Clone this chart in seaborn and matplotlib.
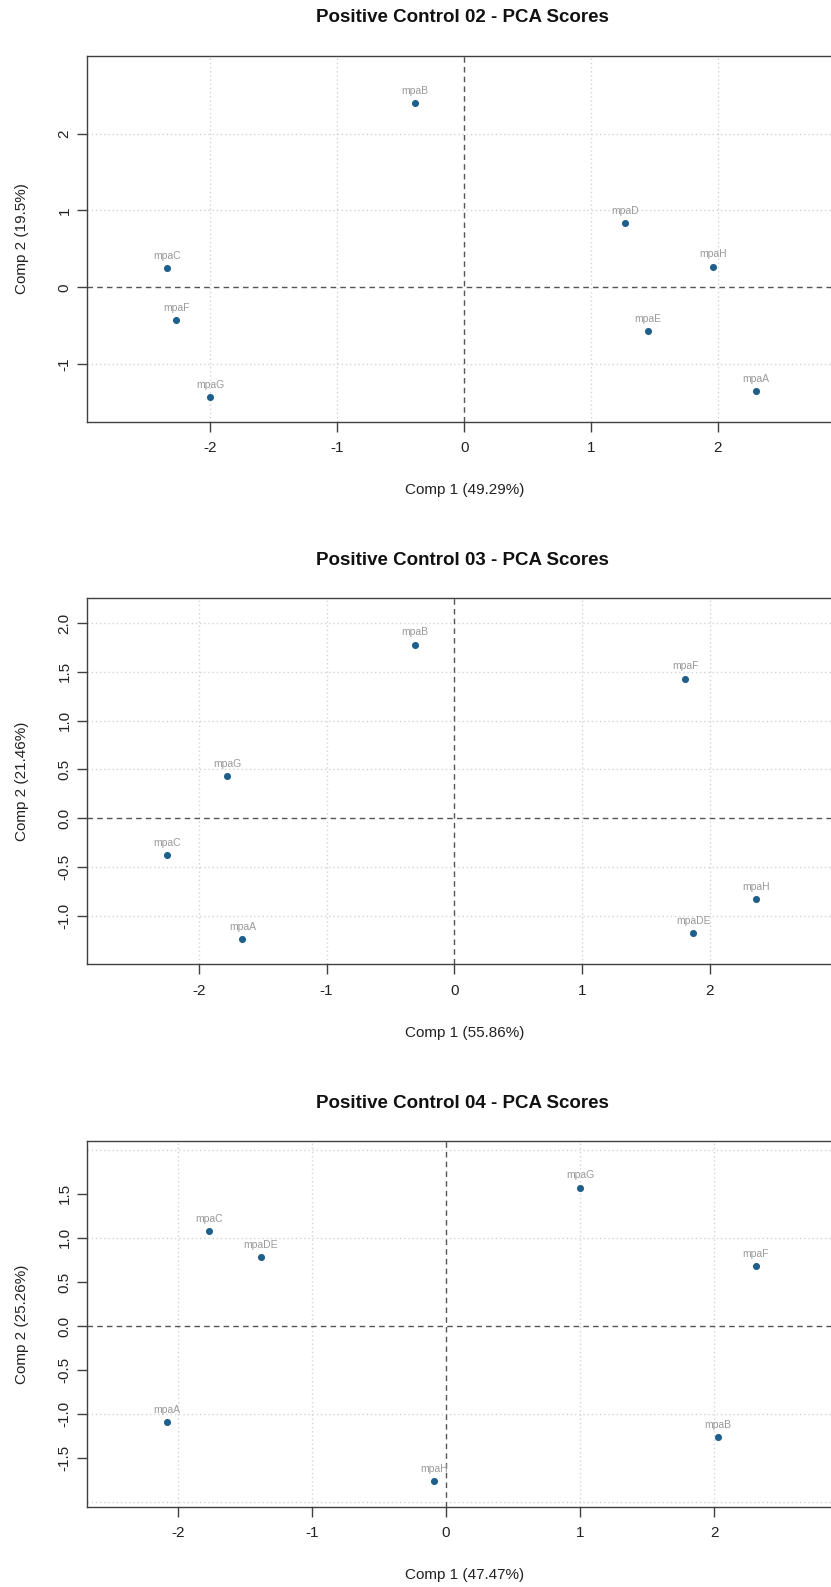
import seaborn as sns
import matplotlib.pyplot as plt

# PCA scores
pc02_labels = ['mpaB', 'mpaC', 'mpaF', 'mpaG', 'mpaD', 'mpaH', 'mpaE', 'mpaA']
pc02_x = [-0.39, -2.34, -2.27, -2.00, 1.27, 1.96, 1.45, 2.30]
pc02_y = [2.40, 0.25, -0.43, -1.43, 0.83, 0.27, -0.57, -1.35]

pc03_labels = ['mpaB', 'mpaF', 'mpaG', 'mpaC', 'mpaA', 'mpaDE', 'mpaH']
pc03_x = [-0.31, 1.81, -1.78, -2.25, -1.66, 1.87, 2.36]
pc03_y = [1.78, 1.43, 0.43, -0.38, -1.24, -1.18, -0.83]

pc04_labels = ['mpaC', 'mpaDE', 'mpaA', 'mpaG', 'mpaF', 'mpaB', 'mpaH']
pc04_x = [-1.77, -1.38, -2.08, 1.00, 2.31, 2.03, -0.09]
pc04_y = [1.08, 0.78, -1.09, 1.57, 0.68, -1.26, -1.76]

titles = ['Positive Control 02 - PCA Scores',
          'Positive Control 03 - PCA Scores',
          'Positive Control 04 - PCA Scores']
xlabels = ['Comp 1 (49.29%)', 'Comp 1 (55.86%)', 'Comp 1 (47.47%)']
ylabels = ['Comp 2 (19.5%)', 'Comp 2 (21.46%)', 'Comp 2 (25.26%)']

sns.set_theme(style='white')
plt.rcParams['font.family'] = ['Liberation Sans', 'DejaVu Sans']
plt.rcParams['axes.unicode_minus'] = False

W, H = 831, 1587
fig = plt.figure(figsize=(W / 100, H / 100), dpi=100)

AX_LEFT = 87.3
AX_W = 755
AX_H = 365.7
AXIS_COL = '#404040'
GRID_COL = '#d3d3d3'
PT_COL = '#1f5f8b'


def draw_panel(top_px, xs, ys, labels, title, xlab, ylab,
               xleft, xunit, ylim, yticks, ytick_fmt, ygrid):
    ax = fig.add_axes([AX_LEFT / W, 1 - (top_px + AX_H) / H, AX_W / W, AX_H / H])
    ax.set_xlim(xleft, xleft + AX_W / xunit)
    ax.set_ylim(*ylim)

    # dotted grid + dashed zero lines
    for gx in [-2, -1, 1, 2]:
        ax.axvline(gx, color=GRID_COL, lw=1, ls=(0, (1, 2)), zorder=0)
    for gy in ygrid:
        ax.axhline(gy, color=GRID_COL, lw=1, ls=(0, (1, 2)), zorder=0)
    ax.axhline(0, color='#555555', lw=1, ls=(0, (4, 3)), zorder=1)
    ax.axvline(0, color='#555555', lw=1, ls=(0, (4, 3)), zorder=1)

    sns.scatterplot(x=xs, y=ys, ax=ax, color=PT_COL, s=26, linewidth=0, zorder=3)
    for x, y, lab in zip(xs, ys, labels):
        ax.annotate(lab, (x, y), xytext=(0, 8.9), textcoords='offset points',
                    ha='center', va='center', fontsize=7.5, color='#9a9a9a')

    ax.set_xticks([-2, -1, 0, 1, 2])
    ax.set_xticklabels(['-2', '-1', '0', '1', '2'])
    ax.set_yticks(yticks)
    ax.set_yticklabels([ytick_fmt.format(v) for v in yticks])
    ax.tick_params(axis='both', direction='out', length=7.2, width=1,
                   color=AXIS_COL, labelsize=11, labelcolor='#222222')
    ax.tick_params(axis='x', pad=7, bottom=True)
    ax.tick_params(axis='y', pad=4, left=True, labelrotation=90)
    for lbl in ax.get_yticklabels():
        lbl.set_va('center')
    for sp in ax.spines.values():
        sp.set_color(AXIS_COL)
        sp.set_linewidth(1)
        sp.set_visible(True)

    ax.set_xlabel(xlab, fontsize=11, color='#222222')
    ax.set_ylabel(ylab, fontsize=11, color='#222222')
    ax.xaxis.set_label_coords(0.5, -68.5 / AX_H)
    ax.xaxis.label.set_va('center')
    ax.yaxis.set_label_coords((21.7 - AX_LEFT) / AX_W, 0.5)
    ax.yaxis.label.set_va('center')

    fig.text(462 / W, 1 - (top_px - 38) / H, title, ha='center', va='center',
             fontsize=13.5, fontweight='bold', color='#111111')
    return ax


draw_panel(56, pc02_x, pc02_y, pc02_labels, titles[0], xlabels[0], ylabels[0],
           -2.97, 126.9, (-1.75, 3.01), [-1, 0, 1, 2], '{:g}', [-1, 1, 2])
draw_panel(598.3, pc03_x, pc03_y, pc03_labels, titles[1], xlabels[1], ylabels[1],
           -2.874, 127.7, (-1.496, 2.254), [-1.0, -0.5, 0.0, 0.5, 1.0, 1.5, 2.0],
           '{:.1f}', [-1.0, -0.5, 0.5, 1.0, 1.5, 2.0])
draw_panel(1141, pc04_x, pc04_y, pc04_labels, titles[2], xlabels[2], ylabels[2],
           -2.675, 134.1, (-2.051, 2.10), [-1.5, -1.0, -0.5, 0.0, 0.5, 1.0, 1.5],
           '{:.1f}', [-2, -1, 1, 2])

fig.savefig('out.png', dpi=100)
